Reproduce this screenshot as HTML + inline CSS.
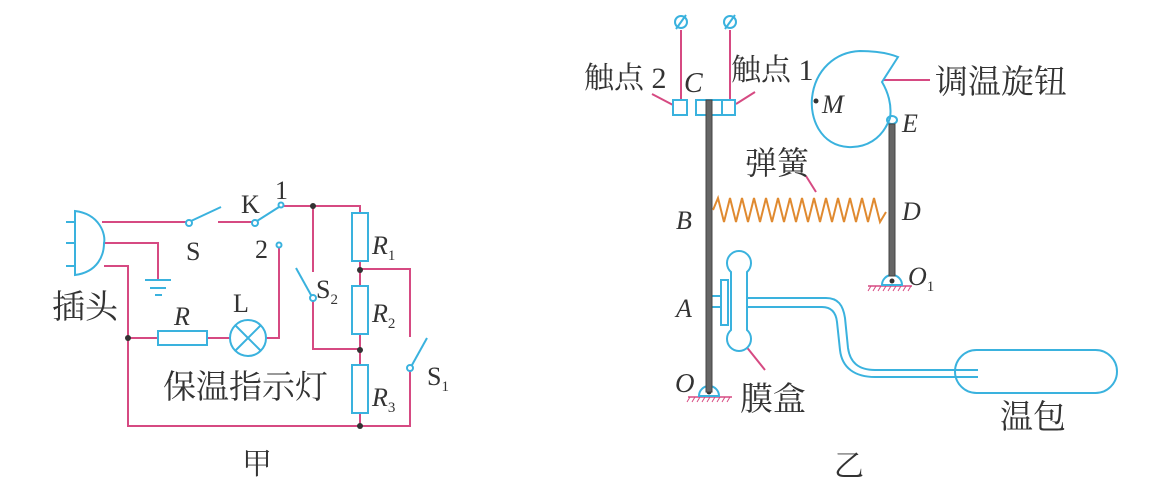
<!DOCTYPE html>
<html><head><meta charset="utf-8"><style>
html,body{margin:0;padding:0;background:#fff;}
svg{display:block;}
text{font-family:"Liberation Serif","Noto Serif CJK SC",serif;fill:#333;}
.cj{font-family:"Liberation Serif","Noto Serif CJK SC","Noto Sans CJK SC",serif;}
.it{font-style:italic;}
</style></head><body>
<svg width="1176" height="488" viewBox="0 0 1176 488" xmlns="http://www.w3.org/2000/svg">
<g fill="none" stroke="#d64a82" stroke-width="2">
<path d="M102 222 H186"/>
<path d="M218 222 H252"/>
<path d="M283 206 H360 V213"/>
<path d="M313 206 V272"/>
<path d="M313 301 V349 H360"/>
<path d="M360 261 V286 M360 334 V366 M360 413 V426"/>
<path d="M360 269 H410 V337"/>
<path d="M410 371 V426 H128 V266 H104"/>
<path d="M104 243 H158 V280"/>
<path d="M128 338 H158 M207 338 H230 M266 338 H279 V248"/>
<path d="M681 100 V30 M730 100 V30"/>
<path d="M652 94 L673 105 M755 92 L736 104"/>
<path d="M884 80 H930"/>
<path d="M806 176 L816 192"/>
<path d="M745 345 L765 370"/>
<path d="M688 397 H732 M868 286 H912" stroke-width="1.5"/>
</g>
<g stroke="#d64a82" stroke-width="1">
<path d="M690 397 l-3 5 M695 397 l-3 5 M700 397 l-3 5 M705 397 l-3 5 M710 397 l-3 5 M715 397 l-3 5 M720 397 l-3 5 M725 397 l-3 5 M730 397 l-3 5"/>
<path d="M871 286 l-3 5 M876 286 l-3 5 M881 286 l-3 5 M886 286 l-3 5 M891 286 l-3 5 M896 286 l-3 5 M901 286 l-3 5 M906 286 l-3 5 M911 286 l-3 5"/>
</g>
<g fill="none" stroke="#3ab2de" stroke-width="2">
<path d="M75 211 C100 214 106 235 104 243 C104 255 98 272 75 275 Z"/>
<path d="M66 222 H75 M66 243 H75 M66 266 H75"/>
<path d="M145 280 H171 M150 288 H166 M155 295 H162"/>
<circle cx="189" cy="223" r="3" fill="#fff"/>
<path d="M191 221 L221 207"/>
<circle cx="255" cy="223" r="3" fill="#fff"/>
<path d="M257 221 L279 207"/>
<circle cx="281" cy="205" r="2.5" fill="#fff"/>
<circle cx="279" cy="245" r="2.5" fill="#fff"/>
<circle cx="313" cy="298" r="3" fill="#fff"/>
<path d="M311 295 L296 268"/>
<circle cx="410" cy="368" r="3" fill="#fff"/>
<path d="M412 365 L427 338"/>
<rect x="352" y="213" width="16" height="48" fill="#fff"/>
<rect x="352" y="286" width="16" height="48" fill="#fff"/>
<rect x="352" y="365" width="16" height="48" fill="#fff"/>
<rect x="158" y="331" width="49" height="14" fill="#fff"/>
<circle cx="248" cy="338" r="18"/>
<path d="M235 325 L261 351 M261 325 L235 351"/>
<circle cx="681" cy="22" r="6"/><path d="M676 29 L686 15"/>
<circle cx="730" cy="22" r="6"/><path d="M725 29 L735 15"/>
<rect x="673" y="100" width="14" height="15"/>
<rect x="696" y="100" width="39" height="15"/>
<path d="M722 100 V115"/>
<path d="M898 57 L882 82 C888 92 892 105 890 118 C882 140 865 148 848 147 C820 145 810 118 812 98 C815 70 835 52 860 51 C875 51 888 53 898 57 Z"/>
<ellipse cx="892" cy="120" rx="5" ry="4"/>
<path d="M699 396 A10 10 0 0 1 719 396 Z" fill="#fff"/>
<path d="M882 285 A10 10 0 0 1 902 285 Z" fill="#fff"/>
<path d="M731 272 A12 12 0 1 1 747 272 V330 A12 12 0 1 1 731 330 Z" fill="#fff"/>
<rect x="721" y="280" width="7" height="45"/>
<rect x="710" y="296" width="11" height="11"/>
<path d="M747 298 H826 C838 298 843 305 845 318 L848 348 C850 362 858 370 875 370 H978"/>
<path d="M747 307 H822 C832 307 836 313 837 322 L840 350 C842 368 855 377 875 377 H978"/>
<rect x="955" y="350" width="162" height="43" rx="21.5"/>
</g>
<g fill="#333">
<circle cx="313" cy="206" r="3"/><circle cx="360" cy="270" r="3"/><circle cx="360" cy="350" r="3"/>
<circle cx="360" cy="426" r="3"/><circle cx="128" cy="338" r="3"/>
<circle cx="709" cy="392" r="2.5"/><circle cx="892" cy="281" r="2.5"/><circle cx="816" cy="101" r="2.5"/>
</g>
<rect x="706" y="100" width="6" height="292" fill="#666" stroke="#444" stroke-width="1"/>
<rect x="889" y="124" width="6" height="152" fill="#666" stroke="#444" stroke-width="1"/>
<polyline fill="none" stroke="#e08a30" stroke-width="2" points="713,210 718,198 724,222 730,198 736,222 742,198 748,222 754,198 760,222 766,198 772,222 778,198 784,222 790,198 796,222 802,198 808,222 814,198 820,222 826,198 832,222 838,198 844,222 850,198 856,222 862,198 868,222 874,198 880,222 886,212"/>
<text x="186" y="260" font-size="26">S</text>
<text x="241" y="213" font-size="26">K</text>
<text x="275" y="199" font-size="26">1</text>
<text x="255" y="258" font-size="26">2</text>
<text x="316" y="298" font-size="26">S<tspan font-size="15" dy="6">2</tspan></text>
<text x="372" y="254" font-size="26" class="it">R<tspan font-size="15" dy="6" font-style="normal">1</tspan></text>
<text x="372" y="322" font-size="26" class="it">R<tspan font-size="15" dy="6" font-style="normal">2</tspan></text>
<text x="372" y="406" font-size="26" class="it">R<tspan font-size="15" dy="6" font-style="normal">3</tspan></text>
<text x="427" y="385" font-size="26">S<tspan font-size="15" dy="6">1</tspan></text>
<text x="174" y="325" font-size="26" class="it">R</text>
<text x="233" y="312" font-size="26">L</text>
<text x="52" y="318" font-size="33" class="cj">插头</text>
<text x="163" y="398" font-size="33" class="cj">保温指示灯</text>
<text x="242" y="474" font-size="30" class="cj">甲</text>
<text x="584" y="88" font-size="30" class="cj">触点 2</text>
<text x="684" y="92" font-size="28" class="it">C</text>
<text x="731" y="80" font-size="30" class="cj">触点 1</text>
<text x="822" y="113" font-size="26" class="it">M</text>
<text x="935" y="93" font-size="33" class="cj">调温旋钮</text>
<text x="902" y="132" font-size="26" class="it">E</text>
<text x="745" y="174" font-size="32" class="cj">弹簧</text>
<text x="676" y="229" font-size="26" class="it">B</text>
<text x="902" y="220" font-size="26" class="it">D</text>
<text x="676" y="317" font-size="26" class="it">A</text>
<text x="675" y="392" font-size="27" class="it">O</text>
<text x="908" y="285" font-size="26" class="it">O<tspan font-size="15" dy="6" font-style="normal">1</tspan></text>
<text x="740" y="410" font-size="33" class="cj">膜盒</text>
<text x="1000" y="428" font-size="33" class="cj">温包</text>
<text x="834" y="476" font-size="30" class="cj">乙</text>
</svg>
</body></html>
